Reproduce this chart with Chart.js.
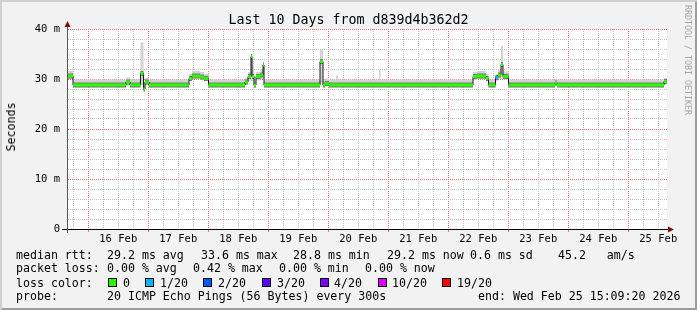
<!DOCTYPE html>
<html>
<head>
<meta charset="utf-8">
<title>Last 10 Days from d839d4b362d2</title>
<script src="https://cdn.jsdelivr.net/npm/chart.js@4.4.1/dist/chart.umd.min.js"></script>
<style>
  body { margin: 0; background: #f2f2f2; }
  #wrap {
    position: relative; width: 697px; height: 310px; overflow: hidden;
    background: #f2f2f2;
    box-shadow: inset 2px 2px 0 #cfcfcf, inset -2px -2px 0 #9d9d9d;
    font-family: 'DejaVu Sans Mono', monospace; color: #000;
  }
  #c { position: absolute; left: 0; top: 0; }
  #title { position: absolute; left: 0; top: 12px; width: 697px; text-align: center; font-size: 13.3px; line-height: 16px; }
  #ylab { position: absolute; left: 11px; top: 127px; font-size: 11.6px; line-height: 14px; white-space: pre;
          transform: translate(-50%, -50%) rotate(-90deg); }
  #credit { position: absolute; left: 683px; top: 5px; writing-mode: vertical-rl; font-size: 8.3px; line-height: 10px; color: #a6a6a6; white-space: pre; }
  .t { position: absolute; white-space: pre; font-size: 11.6px; line-height: 14px; }
  .sq { position: absolute; width: 7px; height: 7px; border: 1px solid #000; top: 278px; }
</style>
</head>
<body>
<div id="wrap">
  <canvas id="c" width="697" height="310"></canvas>
  <div id="title">Last 10 Days from d839d4b362d2</div>
  <div id="ylab">Seconds</div>
  <div id="credit">RRDTOOL / TOBI OETIKER</div>

  <div class="t" style="left:16px;top:247.5px">median rtt:</div>
  <div class="t" style="left:107px;top:247.5px">29.2 ms avg</div>
  <div class="t" style="left:201px;top:247.5px">33.6 ms max</div>
  <div class="t" style="left:293px;top:247.5px">28.8 ms min</div>
  <div class="t" style="left:387px;top:247.5px">29.2 ms now</div>
  <div class="t" style="left:470px;top:247.5px">0.6 ms sd</div>
  <div class="t" style="left:558px;top:247.5px">45.2   am/s</div>

  <div class="t" style="left:16px;top:261px">packet loss:</div>
  <div class="t" style="left:107px;top:261px">0.00 % avg</div>
  <div class="t" style="left:193px;top:261px">0.42 % max</div>
  <div class="t" style="left:279px;top:261px">0.00 % min</div>
  <div class="t" style="left:365px;top:261px">0.00 % now</div>

  <div class="t" style="left:16px;top:275.5px">loss color:</div>
  <div id="losslegend"></div>

  <div class="t" style="left:16px;top:289px">probe:</div>
  <div class="t" style="left:107px;top:289px">20 ICMP Echo Pings (56 Bytes) every 300s</div>
  <div class="t" style="left:478px;top:289px">end: Wed Feb 25 15:09:20 2026</div>
</div>
<script>
// time axis in hours since 15 Feb 00:00, values in ms
const hours = [15.5, 17.9, 39.1, 40.7, 44.9, 46.1, 46.7, 48.3, 64.3, 65.5,
  68.7, 70.3, 72.1, 86.7, 87.9, 89.1, 89.5, 90.3, 91.1, 92.9,
  93.9, 94.3, 116.7, 117.9, 118.7, 120.3, 123.1, 123.9, 140.3, 140.9,
  177.9, 179.5, 183.1, 184.1, 186.9, 187.9, 189.1, 189.9, 192.1, 210.7,
  211.5, 254.3, 255.5];
const median = [30.6, 28.8, 29.4, 28.8, 31.1, 28.0, 29.4, 28.8, 30.1, 30.6,
  30.4, 30.1, 28.8, 29.4, 30.5, 34.5, 30.5, 28.8, 30.5, 30.8,
  32.8, 28.8, 33.5, 28.8, 29.1, 28.8, 28.8, 28.8, 28.8, 28.8,
  30.5, 30.6, 30.1, 28.8, 30.3, 30.8, 32.9, 30.5, 28.8, 29.2,
  28.8, 29.5, 29.5];
const smokeLow = [30.0, 28.3, 28.7, 28.3, 28.8, 27.8, 28.8, 28.3, 29.6, 30.1,
  29.9, 29.6, 28.3, 28.9, 29.6, 29.6, 29.6, 28.3, 29.7, 30.0,
  30.0, 28.3, 29.0, 28.3, 28.5, 28.3, 28.3, 28.3, 28.3, 28.3,
  29.8, 30.0, 29.6, 28.3, 29.6, 30.0, 30.0, 29.9, 28.3, 28.6,
  28.3, 28.9, 28.9];
const smokeHigh = [31.6, 29.9, 30.3, 29.9, 37.3, 29.4, 30.2, 29.9, 31.0, 31.6,
  31.4, 31.0, 29.9, 30.2, 31.4, 35.0, 32.9, 29.9, 31.4, 32.0,
  33.4, 29.9, 35.9, 29.9, 30.1, 29.9, 30.7, 29.9, 31.9, 29.9,
  31.4, 31.6, 31.0, 29.9, 31.0, 31.8, 36.6, 31.5, 29.9, 30.1,
  29.9, 30.2, 30.2];
const lossCount = [0, 0, 0, 0, 0, 0, 0, 0, 0, 0,
  0, 0, 0, 0, 0, 0, 0, 0, 0, 0,
  0, 0, 0, 0, 0, 0, 0, 0, 0, 0,
  0, 0, 0, 0, 1, 0, 0, 0, 0, 0,
  0, 0, 0];
const xTicks = [18, 24, 30, 36, 42, 48, 54, 60, 66, 72, 78, 84, 90, 96, 102, 108, 114, 120,
  126, 132, 138, 144, 150, 156, 162, 168, 174, 180, 186, 192, 198, 204, 210, 216, 222,
  228, 234, 240, 246, 252];
const yTicks = [0, 2, 4, 6, 8, 10, 12, 14, 16, 18, 20, 22, 24, 26, 28, 30, 32, 34, 36, 38, 40];
const dayLabels = ['16 Feb', '17 Feb', '18 Feb', '19 Feb', '20 Feb', '21 Feb', '22 Feb', '23 Feb', '24 Feb', '25 Feb'];
const yLabels = ['0', '10 m', '20 m', '30 m', '40 m'];
const lossNames = ['0', '1/20', '2/20', '3/20', '4/20', '10/20', '19/20'];
const lossColors = ['#26ff00', '#00b8ff', '#0059ff', '#5e00ff', '#7e00ff', '#dd00ff', '#ff0000'];

// legend boxes for loss colors
const boxX = [108, 145, 203, 262, 320, 378, 442];
const labX = [123, 160, 218, 277, 334, 392, 457];
const leg = document.getElementById('losslegend');
lossNames.forEach(function(name, i) {
  const sq = document.createElement('div');
  sq.className = 'sq';
  sq.style.left = boxX[i] + 'px';
  sq.style.background = lossColors[i];
  leg.appendChild(sq);
  const lb = document.createElement('div');
  lb.className = 't';
  lb.style.left = labX[i] + 'px';
  lb.style.top = '275.5px';
  lb.textContent = name;
  leg.appendChild(lb);
});

function pts(vals) {
  return hours.map((h, i) => ({x: h, y: vals[i]}));
}
// horizontal median pieces only (no vertical joins), optionally filtered by loss count
function pieces(n) {
  const out = [];
  for (let i = 0; i < hours.length - 1; i++) {
    if (n !== undefined && lossCount[i] !== n) continue;
    out.push({x: hours[i], y: median[i]}, {x: hours[i + 1], y: median[i]}, {x: hours[i + 1], y: null});
  }
  return out;
}

const majorColor = '#f07070';
const minorColor = '#c4c4c4';
const none = 'rgba(0,0,0,0)';
// per-tick grid colours (indexable options)
const xGridColors = xTicks.map(h => h % 24 === 0 ? majorColor : minorColor);
const xTickColors = xTicks.map(h => h % 24 === 0 ? majorColor : none);
const yGridColors = yTicks.map(v => v % 10 === 0 ? majorColor : minorColor);

const frame = {
  id: 'frame',
  beforeDraw(chart) {
    const {ctx, chartArea: a} = chart;
    ctx.save();
    ctx.fillStyle = '#fff';
    ctx.fillRect(a.left, a.top, a.right - a.left, a.bottom - a.top);
    ctx.restore();
  },
  afterDraw(chart) {
    const {ctx, chartArea: a} = chart;
    ctx.save();
    ctx.lineWidth = 1;
    ctx.strokeStyle = '#000';
    ctx.beginPath();
    ctx.moveTo(a.left - 5, a.bottom + 0.5);
    ctx.lineTo(a.right + 2, a.bottom + 0.5);
    ctx.stroke();
    ctx.strokeStyle = '#555';
    ctx.beginPath();
    ctx.moveTo(a.left + 0.5, a.bottom + 4);
    ctx.lineTo(a.left + 0.5, a.top - 3);
    ctx.stroke();
    ctx.fillStyle = '#801010';
    ctx.beginPath();
    ctx.moveTo(a.left + 0.5, a.top - 8);
    ctx.lineTo(a.left + 3.5, a.top - 2);
    ctx.lineTo(a.left - 2.5, a.top - 2);
    ctx.closePath();
    ctx.fill();
    ctx.beginPath();
    ctx.moveTo(a.right + 7, a.bottom + 0.5);
    ctx.lineTo(a.right + 1, a.bottom + 3.5);
    ctx.lineTo(a.right + 1, a.bottom - 2.5);
    ctx.closePath();
    ctx.fill();
    ctx.restore();
  }
};

Chart.defaults.font.family = "'DejaVu Sans Mono', monospace";
Chart.defaults.color = '#000';

new Chart(document.getElementById('c'), {
  type: 'line',
  data: {
    datasets: [
      { data: pieces(1), borderColor: lossColors[1], borderWidth: 3, pointRadius: 0, borderCapStyle: 'butt' },
      { data: pieces(0), borderColor: lossColors[0], borderWidth: 3, pointRadius: 0, borderCapStyle: 'butt' },
      { data: pts(median), stepped: 'before', borderColor: '#1a1a1a', borderWidth: 1, pointRadius: 0 },
      { data: pieces(), borderColor: '#7a7a7a', borderWidth: 5, pointRadius: 0, borderCapStyle: 'butt' },
      { data: pts(smokeHigh), stepped: 'before', borderColor: none, borderWidth: 0, pointRadius: 0, fill: '+1', backgroundColor: '#d2d2d2' },
      { data: pts(smokeLow), stepped: 'before', borderColor: none, borderWidth: 0, pointRadius: 0 }
    ]
  },
  options: {
    responsive: false,
    devicePixelRatio: 1,
    animation: false,
    layout: { padding: { top: 29, right: 30, bottom: 0, left: 0 } },
    plugins: { legend: { display: false }, tooltip: { enabled: false }, title: { display: false } },
    scales: {
      x: {
        type: 'linear', min: 15.5, max: 255.5,
        afterBuildTicks(s) { s.ticks = xTicks.map(v => ({value: v})); },
        afterFit(s) { s.height = 81; },
        grid: { color: xGridColors, tickColor: xTickColors, tickLength: 3 },
        border: { display: true, color: '#000', dash: [1, 1] },
        ticks: {
          autoSkip: false, maxRotation: 0, padding: 1, font: { size: 10.5 },
          callback: v => (v % 24 === 12) ? dayLabels[(v - 36) / 24] : ''
        }
      },
      y: {
        min: 0, max: 40,
        afterBuildTicks(s) { s.ticks = yTicks.map(v => ({value: v})); },
        afterFit(s) { s.width = 67; },
        grid: { color: yGridColors, drawTicks: false },
        border: { display: true, color: '#555', dash: [1, 1] },
        ticks: {
          autoSkip: false, padding: 7, font: { size: 10.5 },
          callback: v => (v % 10 === 0) ? yLabels[v / 10] : ''
        }
      }
    }
  },
  plugins: [frame]
});
</script>
</body>
</html>
